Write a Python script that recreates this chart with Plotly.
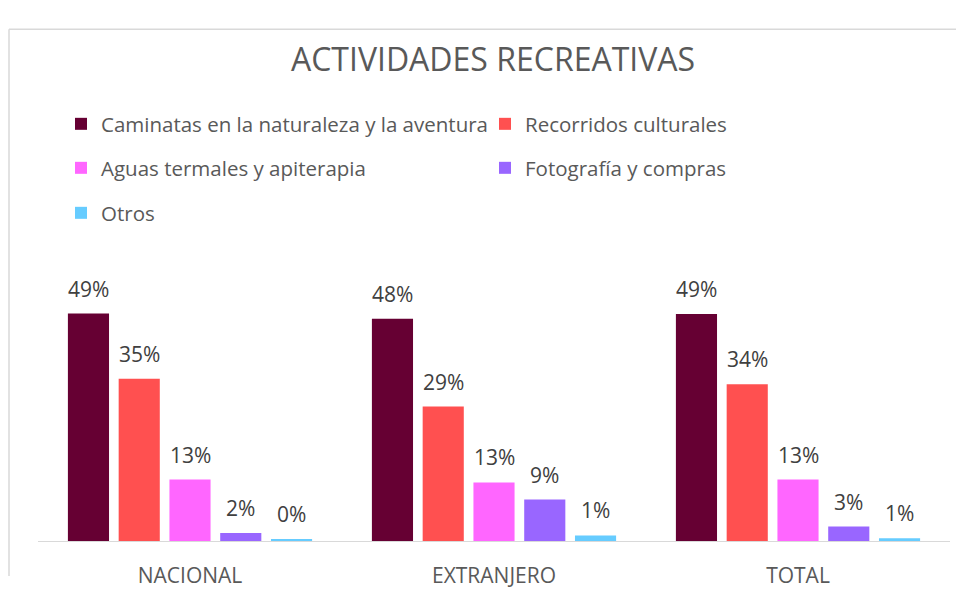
import plotly.graph_objects as go

categories = ["NACIONAL", "EXTRANJERO", "TOTAL"]
series_names = [
    "Caminatas en la naturaleza y la aventura",
    "Recorridos culturales",
    "Aguas termales y apiterapia",
    "Fotografía y compras",
    "Otros",
]
caminatas = [48.9, 47.8, 48.8]
recorridos = [34.9, 28.9, 33.7]
aguas = [13.2, 12.6, 13.2]
fotografia = [1.7, 8.9, 3.1]
otros = [0.4, 1.2, 0.6]
colors = ["#660033", "#FF5050", "#FF66FF", "#9966FF", "#66CCFF"]
legend_rows = ["legend", "legend", "legend2", "legend2", "legend3"]

values = [caminatas, recorridos, aguas, fotografia, otros]
FONT = "Open Sans"

# figure geometry: the page has an 8px body margin, so the figure is sized
# to fit the 964x603 window (964-16, 603-16)
W, H = 948, 587
ML, MR, MT, MB = 30, 6, 254, 37
PW, PH = W - ML - MR, H - MT - MB
BARGAP, GROUPGAP = 0.165, 0.19
n = len(values)
slot = PW / len(categories) * (1 - BARGAP) / n

fig = go.Figure()
for i, (name, vals, col, lg) in enumerate(zip(series_names, values, colors, legend_rows)):
    fig.add_trace(go.Bar(
        x=categories, y=vals, name=name, marker_color=col,
        marker_line_width=0, legend=lg, hoverinfo="x+y+name",
    ))
    for cat, v in zip(categories, vals):
        fig.add_annotation(
            x=cat, y=v, xref="x", yref="y", text=f"{v:.0f}%",
            showarrow=False, yanchor="bottom", xanchor="center",
            xshift=(i - (n - 1) / 2) * slot, yshift=9,
            font=dict(family=FONT, size=21, color="#404040"),
        )

legend_common = dict(orientation="h", xref="container", yref="container",
                     x=53 / W, xanchor="left", yanchor="middle",
                     entrywidth=379, entrywidthmode="pixels",
                     font=dict(family=FONT, size=20.5, color="#595959"),
                     bgcolor="rgba(0,0,0,0)", borderwidth=0)

fig.update_layout(
    width=W, height=H,
    margin=dict(l=ML, r=MR, t=MT, b=MB),
    paper_bgcolor="white", plot_bgcolor="white",
    title=dict(text="ACTIVIDADES RECREATIVAS", x=485 / W, xanchor="center",
               y=1 - 52 / H, yanchor="middle",
               font=dict(family=FONT, size=32, color="#595959")),
    barmode="group", bargap=BARGAP, bargroupgap=GROUPGAP,
    legend=dict(legend_common, y=1 - 116 / H),
    legend2=dict(legend_common, y=1 - 160 / H),
    legend3=dict(legend_common, y=1 - 205 / H),
    xaxis=dict(showline=True, linecolor="#D9D9D9", linewidth=1, ticks="",
               showgrid=False, ticklabelstandoff=16,
               tickfont=dict(family=FONT, size=21, color="#595959")),
    yaxis=dict(range=[0, 60], showgrid=False, showticklabels=False,
               zeroline=False, showline=False),
    showlegend=True,
)

# outer chart border (only its top and left edges fall inside the window)
bx0 = (1 - ML) / PW
by1 = (PH + MT - 7) / PH
fig.add_shape(type="line", xref="paper", yref="paper",
              x0=bx0, x1=(W - ML) / PW, y0=by1, y1=by1,
              line=dict(color="#D9D9D9", width=1.5), layer="below")
fig.add_shape(type="line", xref="paper", yref="paper",
              x0=bx0, x1=bx0, y0=-MB / PH, y1=by1,
              line=dict(color="#D9D9D9", width=1.5), layer="below")

fig.write_html("out.html")
